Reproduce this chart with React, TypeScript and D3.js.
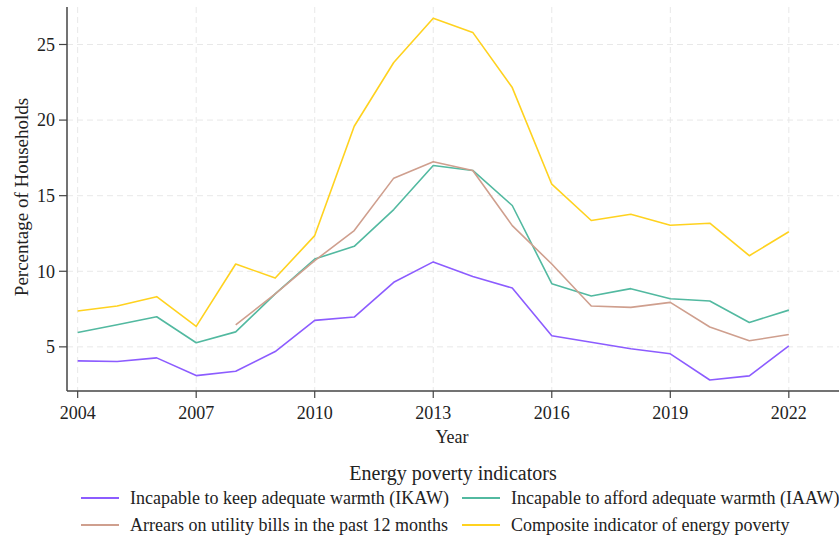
import React from "react";
import * as d3 from "d3";

const years = [2004, 2005, 2006, 2007, 2008, 2009, 2010, 2011, 2012, 2013, 2014, 2015, 2016, 2017, 2018, 2019, 2020, 2021, 2022];
const ikaw = [4.07, 4.03, 4.27, 3.1, 3.39, 4.69, 6.75, 6.97, 9.27, 10.62, 9.66, 8.89, 5.73, 5.31, 4.87, 4.54, 2.81, 3.08, 5.07];
const iaaw = [5.95, 6.46, 6.99, 5.27, 5.99, 8.5, 10.81, 11.65, 14.08, 17.0, 16.67, 14.35, 9.18, 8.36, 8.85, 8.18, 8.03, 6.61, 7.43];
const arrears = [null, null, null, null, 6.46, 8.5, 10.7, 12.69, 16.16, 17.25, 16.67, 13.02, 10.48, 7.7, 7.61, 7.94, 6.31, 5.4, 5.82];
const composite = [7.37, 7.7, 8.32, 6.35, 10.48, 9.55, 12.36, 19.59, 23.81, 26.73, 25.8, 22.15, 15.76, 13.36, 13.77, 13.04, 13.18, 11.03, 12.61];

const xTicks = [2004, 2007, 2010, 2013, 2016, 2019, 2022];
const yTicks = [5, 10, 15, 20, 25];

const seriesNames = [
  "Incapable to keep adequate warmth (IKAW)",
  "Incapable to afford adequate warmth (IAAW)",
  "Arrears on utility bills in the past 12 months",
  "Composite indicator of energy poverty",
];
const seriesColors = ["#8c5cff", "#52b9a0", "#cf9f8e", "#ffd21f"];
const seriesData = [ikaw, iaaw, arrears, composite];

const W = 839;
const H = 538;
const FONT = "'Liberation Serif', 'Times New Roman', serif";

export default function App() {
  const x = d3.scaleLinear().domain([2003.73, 2023.27]).range([67, 839]);
  const y = d3.scaleLinear().domain([2.08, 27.48]).range([391, 7]);

  const line = d3
    .line<[number, number | null]>()
    .defined((d) => d[1] !== null)
    .x((d) => x(d[0]))
    .y((d) => y(d[1] as number));

  const legendPos = [
    { lx: 81, ty: 498 },
    { lx: 462, ty: 498 },
    { lx: 81, ty: 525 },
    { lx: 462, ty: 525 },
  ];

  return (
    <svg
      width={W}
      height={H}
      style={{ position: "absolute", left: 0, top: 0, background: "#fff" }}
      fontFamily={FONT}
    >
      <rect x={0} y={0} width={W} height={H} fill="#fff" />
      {yTicks.map((t) => (
        <line key={"gy" + t} x1={67} x2={839} y1={y(t)} y2={y(t)} stroke="#e8e8e8" strokeWidth={1} strokeDasharray="6,4" />
      ))}
      {xTicks.map((t) => (
        <line key={"gx" + t} x1={x(t)} x2={x(t)} y1={7} y2={391} stroke="#e8e8e8" strokeWidth={1} strokeDasharray="6,4" />
      ))}
      {seriesData.map((s, i) => (
        <path
          key={"s" + i}
          d={line(years.map((yr, j) => [yr, s[j]] as [number, number | null])) || ""}
          fill="none"
          stroke={seriesColors[i]}
          strokeWidth={1.6}
          strokeLinejoin="round"
        />
      ))}
      <line x1={67} x2={67} y1={7} y2={391} stroke="#444" strokeWidth={1.5} />
      <line x1={67} x2={839} y1={391} y2={391} stroke="#444" strokeWidth={1.5} />
      {yTicks.map((t) => (
        <g key={"yt" + t}>
          <line x1={59} x2={67} y1={y(t)} y2={y(t)} stroke="#444" strokeWidth={1.2} />
          <text x={55} y={y(t)} dy="0.35em" textAnchor="end" fontSize={18} fill="#222">
            {t}
          </text>
        </g>
      ))}
      {xTicks.map((t) => (
        <g key={"xt" + t}>
          <line x1={x(t)} x2={x(t)} y1={391} y2={398} stroke="#444" strokeWidth={1.2} />
          <text x={x(t)} y={413} dy="0.35em" textAnchor="middle" fontSize={18} fill="#222">
            {t}
          </text>
        </g>
      ))}
      <text x={452} y={437} dy="0.35em" textAnchor="middle" fontSize={18} fill="#222">
        Year
      </text>
      <text
        transform={`translate(21,197) rotate(-90)`}
        textAnchor="middle"
        dy="0.35em"
        fontSize={19}
        fill="#222"
      >
        Percentage of Households
      </text>
      <text x={453} y={473} dy="0.35em" textAnchor="middle" fontSize={20} fill="#222">
        Energy poverty indicators
      </text>
      {seriesNames.map((n, i) => (
        <g key={"lg" + i}>
          <line
            x1={legendPos[i].lx}
            x2={legendPos[i].lx + 38}
            y1={legendPos[i].ty}
            y2={legendPos[i].ty}
            stroke={seriesColors[i]}
            strokeWidth={2}
          />
          <text x={legendPos[i].lx + 49} y={legendPos[i].ty} dy="0.35em" fontSize={18} fill="#222">
            {n}
          </text>
        </g>
      ))}
    </svg>
  );
}
